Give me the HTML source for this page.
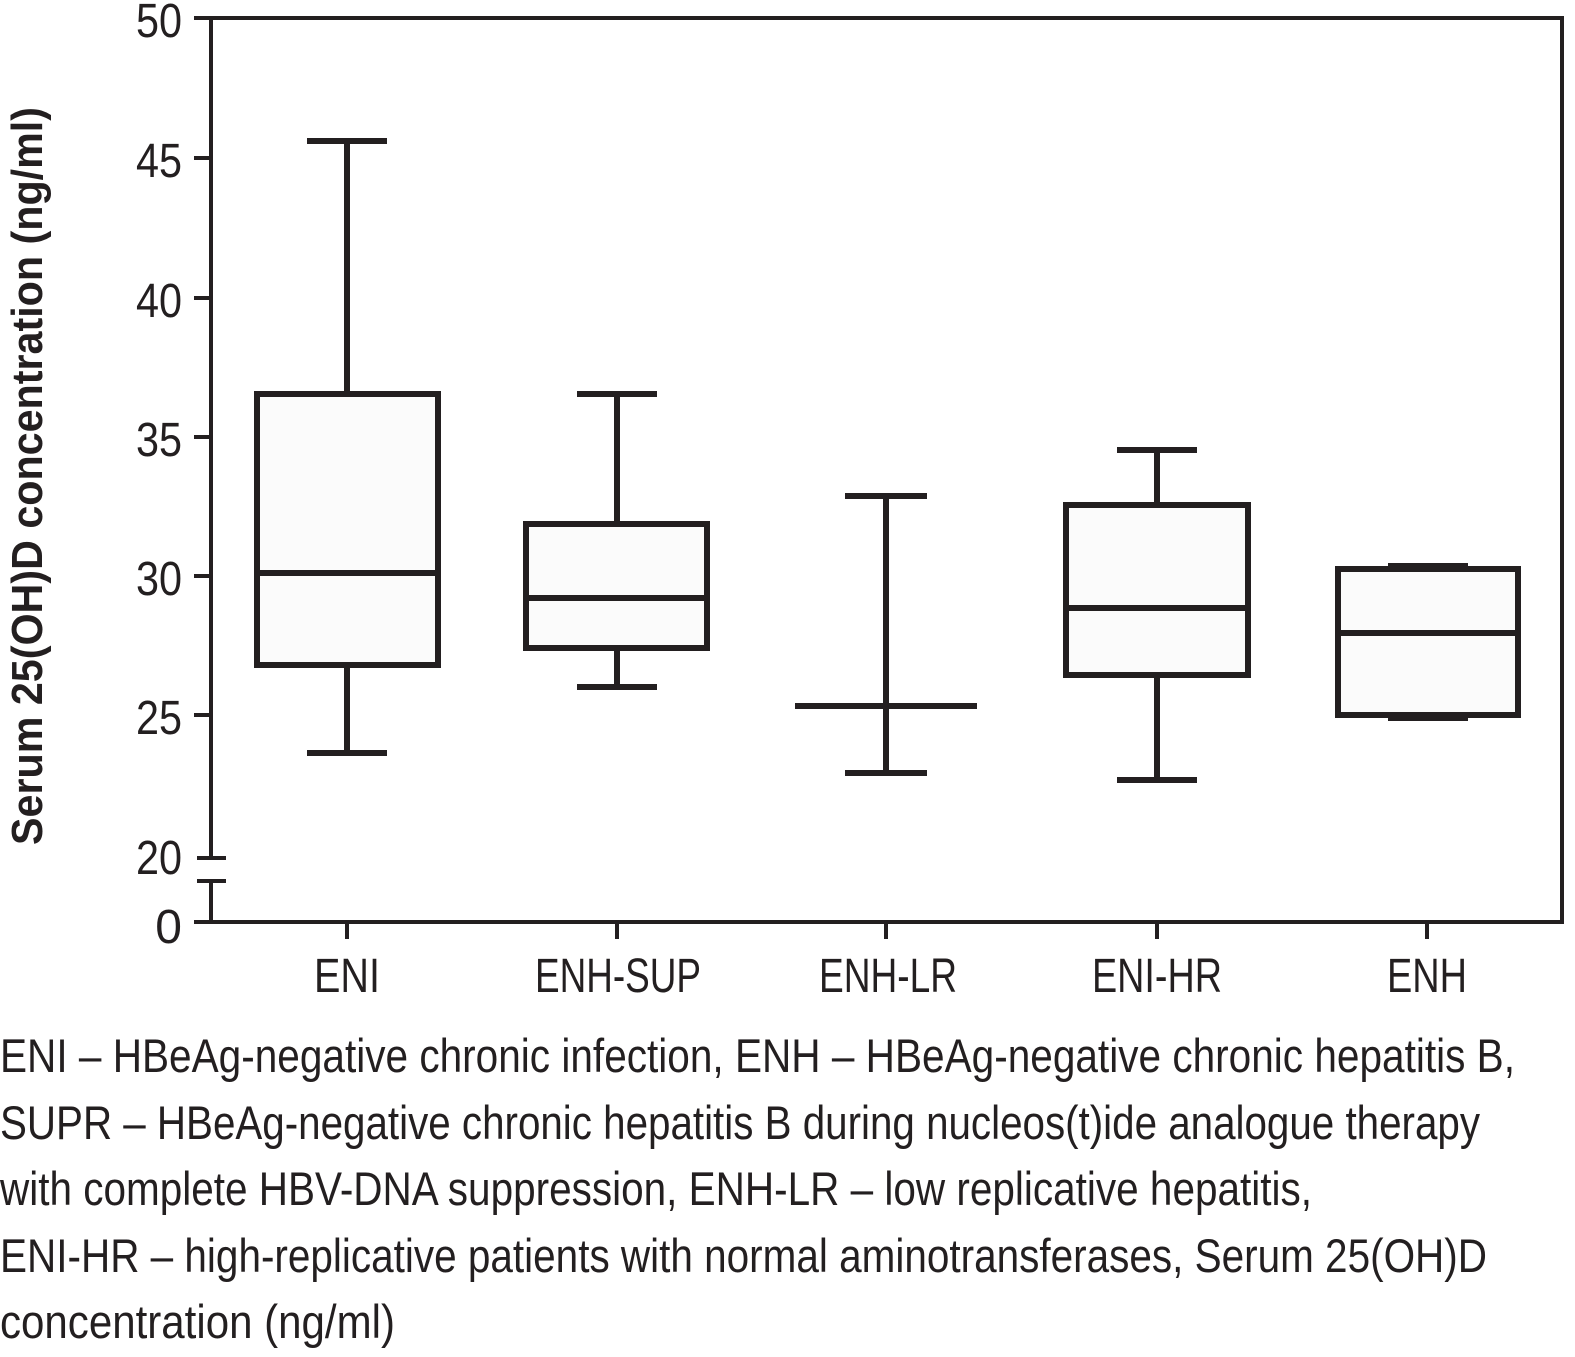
<!DOCTYPE html>
<html><head><meta charset="utf-8"><style>
html,body{margin:0;padding:0;background:#fff;}
svg{display:block;}
text{font-family:"Liberation Sans Narrow","Liberation Sans",sans-serif;fill:#231f20;}
</style></head><body>
<svg width="1575" height="1357" viewBox="0 0 1575 1357" xmlns="http://www.w3.org/2000/svg">
<g stroke="#231f20" fill="none" stroke-linecap="butt">
<path d="M194 18 H1562 V922 H194" stroke-width="4"/>
<path d="M211 18 V858 M211 881 V922" stroke-width="4"/>
<path d="M194 158 H211 M194 298 H211 M194 437 H211 M194 576 H211 M194 715 H211" stroke-width="4"/>
<path d="M197 858 H226 M197 881 H226" stroke-width="4"/>
<path d="M347 922 V939 M617 922 V939 M886 922 V939 M1157 922 V939 M1427 922 V939" stroke-width="4"/>
</g>
<g stroke="#231f20" stroke-width="6" fill="#fbfbfb">
<path d="M347 141 V394 M347 665 V753 M307 141 H387 M307 753 H387" fill="none"/>
<rect x="257" y="394" width="181" height="271"/>
<path d="M257 573 H438"/>
<path d="M617 394 V524 M617 648 V687 M577 394 H657 M577 687 H657" fill="none"/>
<rect x="526" y="524" width="181" height="124"/>
<path d="M526 598 H707"/>
<path d="M886 496 V773 M845 496 H927 M845 773 H927 M795 706 H977" fill="none"/>
<path d="M1157 450 V505 M1157 675 V780 M1117 450 H1197 M1117 780 H1197" fill="none"/>
<rect x="1066" y="505" width="182" height="170"/>
<path d="M1066 608 H1248"/>
<path d="M1388 566 H1468 M1388 718 H1468" fill="none"/>
<rect x="1338" y="569" width="180" height="146"/>
<path d="M1338 633 H1518"/>
</g>
<g font-size="48" text-anchor="end">
<text x="182" y="37" textLength="46" lengthAdjust="spacingAndGlyphs">50</text>
<text x="182" y="177" textLength="46" lengthAdjust="spacingAndGlyphs">45</text>
<text x="182" y="317" textLength="46" lengthAdjust="spacingAndGlyphs">40</text>
<text x="182" y="456" textLength="46" lengthAdjust="spacingAndGlyphs">35</text>
<text x="182" y="595" textLength="46" lengthAdjust="spacingAndGlyphs">30</text>
<text x="182" y="734" textLength="46" lengthAdjust="spacingAndGlyphs">25</text>
<text x="182" y="874" textLength="46" lengthAdjust="spacingAndGlyphs">20</text>
<text x="182" y="943">0</text>
</g>
<g font-size="48" text-anchor="middle">
<text x="347" y="992" textLength="66" lengthAdjust="spacingAndGlyphs">ENI</text>
<text x="618" y="992" textLength="166" lengthAdjust="spacingAndGlyphs">ENH-SUP</text>
<text x="888" y="992" textLength="138" lengthAdjust="spacingAndGlyphs">ENH-LR</text>
<text x="1157" y="992" textLength="130" lengthAdjust="spacingAndGlyphs">ENI-HR</text>
<text x="1427" y="992" textLength="80" lengthAdjust="spacingAndGlyphs">ENH</text>
</g>
<text transform="translate(42,845) rotate(-90)" font-size="44" font-weight="bold" textLength="738" lengthAdjust="spacingAndGlyphs">Serum 25(OH)D concentration (ng/ml)</text>
<g font-size="47">
<text x="0" y="1072" textLength="1515" lengthAdjust="spacingAndGlyphs">ENI – HBeAg-negative chronic infection, ENH – HBeAg-negative chronic hepatitis B,</text>
<text x="0" y="1139" textLength="1480" lengthAdjust="spacingAndGlyphs">SUPR – HBeAg-negative chronic hepatitis B during nucleos(t)ide analogue therapy</text>
<text x="0" y="1205" textLength="1312" lengthAdjust="spacingAndGlyphs">with complete HBV-DNA suppression, ENH-LR – low replicative hepatitis,</text>
<text x="0" y="1272" textLength="1487" lengthAdjust="spacingAndGlyphs">ENI-HR – high-replicative patients with normal aminotransferases, Serum 25(OH)D</text>
<text x="0" y="1338" textLength="395" lengthAdjust="spacingAndGlyphs">concentration (ng/ml)</text>
</g>
</svg>
</body></html>
